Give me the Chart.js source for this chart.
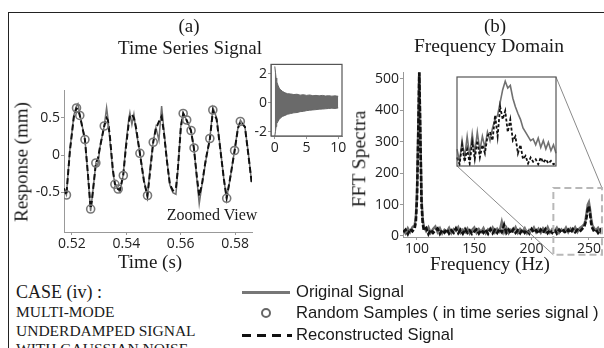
<!DOCTYPE html>
<html>
<head>
<meta charset="utf-8">
<script src="https://cdn.jsdelivr.net/npm/chart.js@4.4.1/dist/chart.umd.min.js"></script>
<style>
  html, body { margin: 0; padding: 0; background: #fff; }
  body { width: 604px; height: 348px; position: relative; overflow: hidden;
         font-family: "Liberation Serif", "Times New Roman", serif; color: #1a1a1a; }
  canvas { position: absolute; }
  .frame { position: absolute; left: 8px; top: 12px; width: 600px; height: 340px;
           border-top: 1.5px solid #222; border-left: 1.5px solid #222; }
  .c { position: absolute; white-space: nowrap; line-height: 1; transform: translate(-50%, -50%); }
  .v { position: absolute; white-space: nowrap; line-height: 1; transform: translate(-50%, -50%) rotate(-90deg); }
  .l { position: absolute; white-space: nowrap; line-height: 1; transform: translateY(-50%); }
  .sans { font-family: "Liberation Sans", Arial, sans-serif; }
</style>
</head>
<body>
<div class="frame"></div>

<canvas id="timeChart" width="300" height="280" style="left:0px;top:0px"></canvas>
<canvas id="fullChart" width="120" height="105" style="left:230px;top:55px"></canvas>
<canvas id="fftChart" width="304" height="280" style="left:300px;top:0px"></canvas>
<canvas id="zoomChart" width="110" height="100" style="left:452px;top:72px"></canvas>

<div class="c" style="left:189px;top:25px;font-size:19px">(a)</div>
<div class="c" style="left:190px;top:47px;font-size:19px">Time Series Signal</div>
<div class="c" style="left:495px;top:25px;font-size:19px">(b)</div>
<div class="c" style="left:489px;top:46px;font-size:19.5px">Frequency Domain</div>
<div class="v" style="left:21px;top:162px;font-size:19px">Response (mm)</div>
<div class="v" style="left:359px;top:159px;font-size:19.5px">FFT Spectra</div>
<div class="c" style="left:150px;top:261px;font-size:19px">Time (s)</div>
<div class="c" style="left:490px;top:263px;font-size:19px">Frequency (Hz)</div>
<div class="c" style="left:212px;top:215px;font-size:16px">Zoomed View</div>

<div class="l" style="left:16px;top:292px;font-size:18px">CASE (iv) :</div>
<div class="l" style="left:16px;top:312px;font-size:15.5px">MULTI-MODE</div>
<div class="l" style="left:16px;top:331px;font-size:15.5px">UNDERDAMPED SIGNAL</div>
<div class="l" style="left:16px;top:349px;font-size:15.5px">WITH GAUSSIAN NOISE</div>

<div style="position:absolute;left:242px;top:291px;width:48px;height:3px;background:#777"></div>
<div class="l sans" style="left:296px;top:292px;font-size:16.6px">Original Signal</div>
<div style="position:absolute;left:261px;top:308px;width:6px;height:6px;border:2.5px solid #666;border-radius:50%"></div>
<div class="l sans" style="left:296px;top:313px;font-size:16.6px">Random Samples ( in time series signal )</div>
<div style="position:absolute;left:242px;top:334px;width:50px;height:3px;background:repeating-linear-gradient(90deg,#111 0 9px,transparent 9px 15px)"></div>
<div class="l sans" style="left:296px;top:335px;font-size:16.6px">Reconstructed Signal</div>

<script>
// (a) zoomed time series
const timeTicks = [0.52, 0.54, 0.56, 0.58];
const responseTicks = [-0.5, 0, 0.5];
const timeS = [0.51706, 0.51798, 0.51926, 0.52074, 0.52165, 0.52221, 0.52294, 0.52478, 0.52588, 0.52688,
  0.52735, 0.52882, 0.52956, 0.53029, 0.53188, 0.53276, 0.53324, 0.53397, 0.53507, 0.53581,
  0.53691, 0.53765, 0.53886, 0.53985, 0.54096, 0.54132, 0.54206, 0.54279, 0.54353, 0.54500,
  0.54647, 0.54776, 0.54868, 0.54989, 0.55088, 0.55199, 0.55298, 0.55382, 0.55493, 0.55603,
  0.55713, 0.55824, 0.55897, 0.56007, 0.56092, 0.56217, 0.56375, 0.56485, 0.56596, 0.56680,
  0.56779, 0.56926, 0.57074, 0.57184, 0.57320, 0.57441, 0.57588, 0.57688, 0.57809, 0.57982,
  0.58103, 0.58195, 0.58360, 0.58471, 0.58607];
const originalMm = [-0.47, -0.54, 0.07, 0.54, 0.66, 0.69, 0.54, 0.22, -0.27, -0.76,
  -0.61, -0.11, -0.14, 0.10, 0.39, 0.64, 0.50, 0.20, -0.23, -0.39,
  -0.46, -0.50, -0.27, 0.14, 0.50, 0.57, 0.41, 0.55, 0.34, 0.03,
  -0.34, -0.57, -0.20, 0.18, 0.37, 0.20, 0.66, 0.34, -0.07, -0.41,
  -0.51, -0.53, -0.20, 0.41, 0.57, 0.47, 0.34, 0.10, -0.34, -0.66,
  -0.41, -0.07, 0.23, 0.64, 0.50, 0.14, -0.34, -0.58, -0.34, 0.07,
  0.37, 0.47, 0.38, 0.07, -0.37];
const reconstructedMm = [-0.45, -0.54, 0.05, 0.52, 0.63, 0.62, 0.53, 0.21, -0.25, -0.72,
  -0.62, -0.11, -0.05, 0.10, 0.39, 0.50, 0.47, 0.25, -0.20, -0.39,
  -0.46, -0.47, -0.28, 0.10, 0.45, 0.52, 0.55, 0.50, 0.38, 0.02,
  -0.35, -0.55, -0.25, 0.17, 0.36, 0.45, 0.52, 0.30, -0.08, -0.40,
  -0.48, -0.45, -0.18, 0.38, 0.56, 0.47, 0.33, 0.09, -0.30, -0.55,
  -0.40, -0.05, 0.22, 0.60, 0.48, 0.12, -0.33, -0.58, -0.33, 0.06,
  0.36, 0.45, 0.38, 0.05, -0.37];
const sampleTimeS = [0.5180, 0.5217, 0.5229, 0.5248, 0.5269, 0.5288, 0.5319, 0.5358, 0.5370, 0.5389, 0.5450,
  0.5478, 0.5499, 0.5609, 0.5622, 0.5638, 0.5649, 0.5707, 0.5718, 0.5769, 0.5798, 0.5819];
const sampleMm = [-0.54, 0.635, 0.534, 0.209, -0.73, -0.108, 0.392, -0.396, -0.459, -0.277, 0.023,
  -0.547, 0.172, 0.561, 0.473, 0.331, 0.095, 0.223, 0.608, -0.585, 0.061, 0.453];

// (a) inset: full record envelope
const fullTicks = [0, 5, 10];
const fullAmpTicks = [-2, 0, 2];
const fullTimeS = [0, 0.1, 0.2, 0.3, 0.5, 0.7, 0.9, 1.2, 1.6, 2, 2.5, 3, 3.5, 4, 4.5, 5, 5.5, 6, 6.5, 7, 7.5, 8, 8.5, 9, 9.5, 10];
const envelopeUpper = [2.5, 2.1, 1.7, 1.45, 1.2, 1.0, 0.9, 0.78, 0.68, 0.62, 0.6, 0.56, 0.58, 0.52, 0.55, 0.5,
  0.53, 0.48, 0.5, 0.47, 0.5, 0.46, 0.48, 0.45, 0.47, 0.44];
const envelopeLower = [-2.3, -2.0, -1.65, -1.45, -1.3, -1.15, -1.05, -0.95, -0.88, -0.8, -0.75, -0.7, -0.68, -0.62,
  -0.6, -0.55, -0.52, -0.5, -0.48, -0.45, -0.44, -0.42, -0.4, -0.38, -0.4, -0.36];

// (b) spectrum
const freqTicks = [100, 150, 200, 250];
const fftTicks = [0, 100, 200, 300, 400, 500];
const freqHz = [88, 90, 92, 94, 96, 98, 99, 100, 101, 102, 103, 104, 105, 106, 108, 110, 112, 114, 116, 118,
  120, 122, 124, 126, 128, 130, 132, 134, 136, 138, 140, 142, 144, 146, 148, 150, 152, 154, 156, 158,
  160, 162, 164, 166, 168, 170, 172, 174, 176, 178, 180, 182, 184, 186, 188, 190, 192, 194, 196, 198,
  200, 202, 204, 206, 208, 210, 212, 214, 216, 218, 220, 222, 224, 226, 228, 230, 232, 234, 236, 238,
  240, 242, 244, 246, 247, 248, 249, 250, 251, 252, 253, 254, 256, 258, 260, 262];
const originalFFT = [18, 8, 25, 12, 28, 35, 60, 140, 330, 540, 320, 120, 55, 30, 15, 28, 10, 22, 30, 12,
  25, 8, 20, 14, 26, 9, 22, 16, 28, 10, 20, 12, 24, 8, 19, 27, 10, 22, 13, 25,
  9, 21, 15, 27, 11, 23, 14, 45, 12, 26, 9, 20, 15, 28, 10, 22, 14, 25, 9, 20,
  16, 27, 12, 23, 10, 24, 13, 28, 11, 22, 15, 26, 10, 21, 14, 27, 12, 24, 16, 28,
  13, 25, 30, 38, 50, 75, 100, 108, 85, 55, 35, 28, 18, 26, 12, 22];
const reconstructedFFT = [12, 20, 6, 22, 15, 25, 45, 120, 300, 520, 300, 100, 40, 18, 25, 6, 20, 10, 18, 24,
  7, 19, 11, 22, 8, 18, 10, 24, 9, 20, 8, 22, 10, 18, 7, 15, 21, 8, 19, 10,
  20, 7, 22, 9, 20, 10, 22, 12, 35, 10, 20, 8, 22, 10, 18, 9, 21, 10, 19, 8,
  22, 11, 18, 8, 20, 10, 22, 9, 19, 10, 21, 8, 20, 11, 18, 9, 20, 10, 22, 12,
  20, 14, 22, 30, 42, 60, 85, 95, 70, 40, 25, 18, 22, 10, 20, 9];

// (b) inset around the 250 Hz mode
const zoomHz = [240, 240.5, 241, 241.5, 242, 242.5, 243, 243.5, 244, 244.5, 245, 245.5, 246, 246.5, 247, 247.5,
  248, 248.5, 249, 249.5, 250, 250.5, 251, 251.5, 252, 252.5, 253, 253.5, 254, 254.5, 255, 255.5,
  256, 256.5, 257, 257.5, 258, 258.5, 259, 259.5];
const zoomOriginal = [20, 5, 30, 10, 35, 12, 38, 15, 40, 18, 35, 22, 40, 30, 45, 55, 60, 75, 90, 100,
  92, 95, 80, 70, 62, 55, 45, 40, 35, 30, 32, 25, 33, 22, 30, 20, 28, 18, 25, 15];
const zoomReconstructed = [10, 2, 25, 5, 20, 3, 28, 8, 30, 10, 25, 15, 35, 40, 30, 60, 35, 70, 55, 65,
  40, 55, 30, 35, 15, 25, 8, 12, 3, 10, 5, 8, 2, 10, 4, 8, 3, 6, 2, 4];

// region of the spectrum shown in the inset
const zoomBoxHz = [219, 261.4];
const zoomBoxAmp = [-60, 153];

const GRAY = '#707070';
const INK = '#111';

Chart.defaults.font.family = '"Open Sans", sans-serif';
Chart.defaults.font.size = 14;
Chart.defaults.color = '#222';
Chart.defaults.animation = false;
Chart.defaults.responsive = false;
Chart.defaults.plugins.legend.display = false;
Chart.defaults.plugins.tooltip.enabled = false;

function xy(xs, ys) {
  return xs.map((x, i) => ({ x: x, y: ys[i] }));
}

function fixedTicks(values) {
  return scale => { scale.ticks = values.map(v => ({ value: v })); };
}

const boxPlugin = {
  id: 'box',
  beforeDraw(chart) {
    const a = chart.chartArea;
    chart.ctx.save();
    chart.ctx.fillStyle = '#fff';
    chart.ctx.fillRect(a.left, a.top, a.right - a.left, a.bottom - a.top);
    chart.ctx.restore();
  },
  afterDraw(chart) {
    const a = chart.chartArea;
    chart.ctx.save();
    chart.ctx.strokeStyle = '#555';
    chart.ctx.lineWidth = 1.2;
    chart.ctx.strokeRect(a.left, a.top, a.right - a.left, a.bottom - a.top);
    chart.ctx.restore();
  }
};

function axis(min, max, ticks, size, fmt) {
  return {
    type: 'linear', min: min, max: max,
    afterBuildTicks: fixedTicks(ticks),
    afterFit: s => { if (s.isHorizontal()) s.height = size; else s.width = size; },
    grid: { drawOnChartArea: false, tickLength: 3, color: '#999' },
    border: { color: '#999', width: 1 },
    ticks: { padding: 1, autoSkip: false, maxRotation: 0, callback: fmt || (v => String(v)) }
  };
}

// (a) main
new Chart(document.getElementById('timeChart'), {
  type: 'line',
  data: {
    datasets: [
      { data: xy(sampleTimeS, sampleMm), showLine: false, pointRadius: 4, pointBorderWidth: 1.6,
        pointBorderColor: '#777', pointBackgroundColor: 'rgba(0,0,0,0)', order: 1 },
      { data: xy(timeS, reconstructedMm), borderColor: INK, borderWidth: 2, borderDash: [6, 3],
        pointRadius: 0, order: 2 },
      { data: xy(timeS, originalMm), borderColor: GRAY, borderWidth: 1.5, pointRadius: 0, order: 3 }
    ]
  },
  options: {
    layout: { padding: { left: 0, top: 90, right: 48, bottom: 0 } },
    scales: {
      x: axis(0.5171, 0.5862, timeTicks, 48, v => v.toFixed(2)),
      y: axis(-1.04, 0.878, responseTicks, 64)
    }
  }
});

// (a) inset
new Chart(document.getElementById('fullChart'), {
  type: 'line',
  data: {
    datasets: [
      { data: xy(fullTimeS, envelopeUpper), borderColor: '#666', borderWidth: 1, pointRadius: 0 },
      { data: xy(fullTimeS, envelopeLower), borderColor: '#666', borderWidth: 1, pointRadius: 0,
        fill: '-1', backgroundColor: '#6a6a6a' }
    ]
  },
  options: {
    layout: { padding: { left: 0, top: 8, right: 8, bottom: 0 } },
    scales: {
      x: axis(-0.6, 10.6, fullTicks, 24),
      y: axis(-2.3, 2.64, fullAmpTicks, 41)
    }
  },
  plugins: [boxPlugin]
});

// (b) inset
const zoomChart = new Chart(document.getElementById('zoomChart'), {
  type: 'line',
  data: {
    labels: zoomHz,
    datasets: [
      { data: zoomReconstructed, borderColor: INK, borderWidth: 1.8, borderDash: [3, 2], pointRadius: 0 },
      { data: zoomOriginal, borderColor: GRAY, borderWidth: 1.6, pointRadius: 0 }
    ]
  },
  options: {
    layout: { padding: { left: 5, top: 5, right: 6, bottom: 6 } },
    scales: {
      x: { display: false, offset: false },
      y: { display: false, min: 0, max: 105 }
    }
  },
  plugins: [boxPlugin]
});

const zoomBoxPlugin = {
  id: 'zoomBox',
  afterDraw(chart) {
    const ctx = chart.ctx;
    const sx = chart.scales.x, sy = chart.scales.y;
    const x1 = sx.getPixelForValue(zoomBoxHz[0]), x2 = sx.getPixelForValue(zoomBoxHz[1]);
    const y1 = sy.getPixelForValue(zoomBoxAmp[1]), y2 = sy.getPixelForValue(zoomBoxAmp[0]);
    const inset = zoomChart.canvas, a = zoomChart.chartArea;
    const ox = inset.offsetLeft - chart.canvas.offsetLeft;
    const oy = inset.offsetTop - chart.canvas.offsetTop;
    ctx.save();
    ctx.strokeStyle = '#8a8a8a';
    ctx.lineWidth = 1;
    ctx.beginPath();
    ctx.moveTo(ox + a.left, oy + a.bottom);
    ctx.lineTo(x1, y2);
    ctx.moveTo(ox + a.right, oy + a.top);
    ctx.lineTo(x2, y1);
    ctx.stroke();
    ctx.setLineDash([7, 4]);
    ctx.strokeStyle = '#b8b8b8';
    ctx.lineWidth = 2;
    ctx.strokeRect(x1, y1, x2 - x1, y2 - y1);
    ctx.restore();
  }
};

// (b) main
new Chart(document.getElementById('fftChart'), {
  type: 'line',
  data: {
    datasets: [
      { data: xy(freqHz, reconstructedFFT), borderColor: INK, borderWidth: 2.6, borderDash: [5, 2],
        pointRadius: 0, order: 1 },
      { data: xy(freqHz, originalFFT), borderColor: GRAY, borderWidth: 2.4, pointRadius: 0, order: 2 }
    ]
  },
  options: {
    layout: { padding: { left: 0, top: 72, right: 1, bottom: 0 } },
    scales: {
      x: axis(87.8, 262.3, freqTicks, 43),
      y: axis(-3.2, 522, fftTicks, 103)
    }
  },
  plugins: [zoomBoxPlugin]
});
</script>
</body>
</html>
